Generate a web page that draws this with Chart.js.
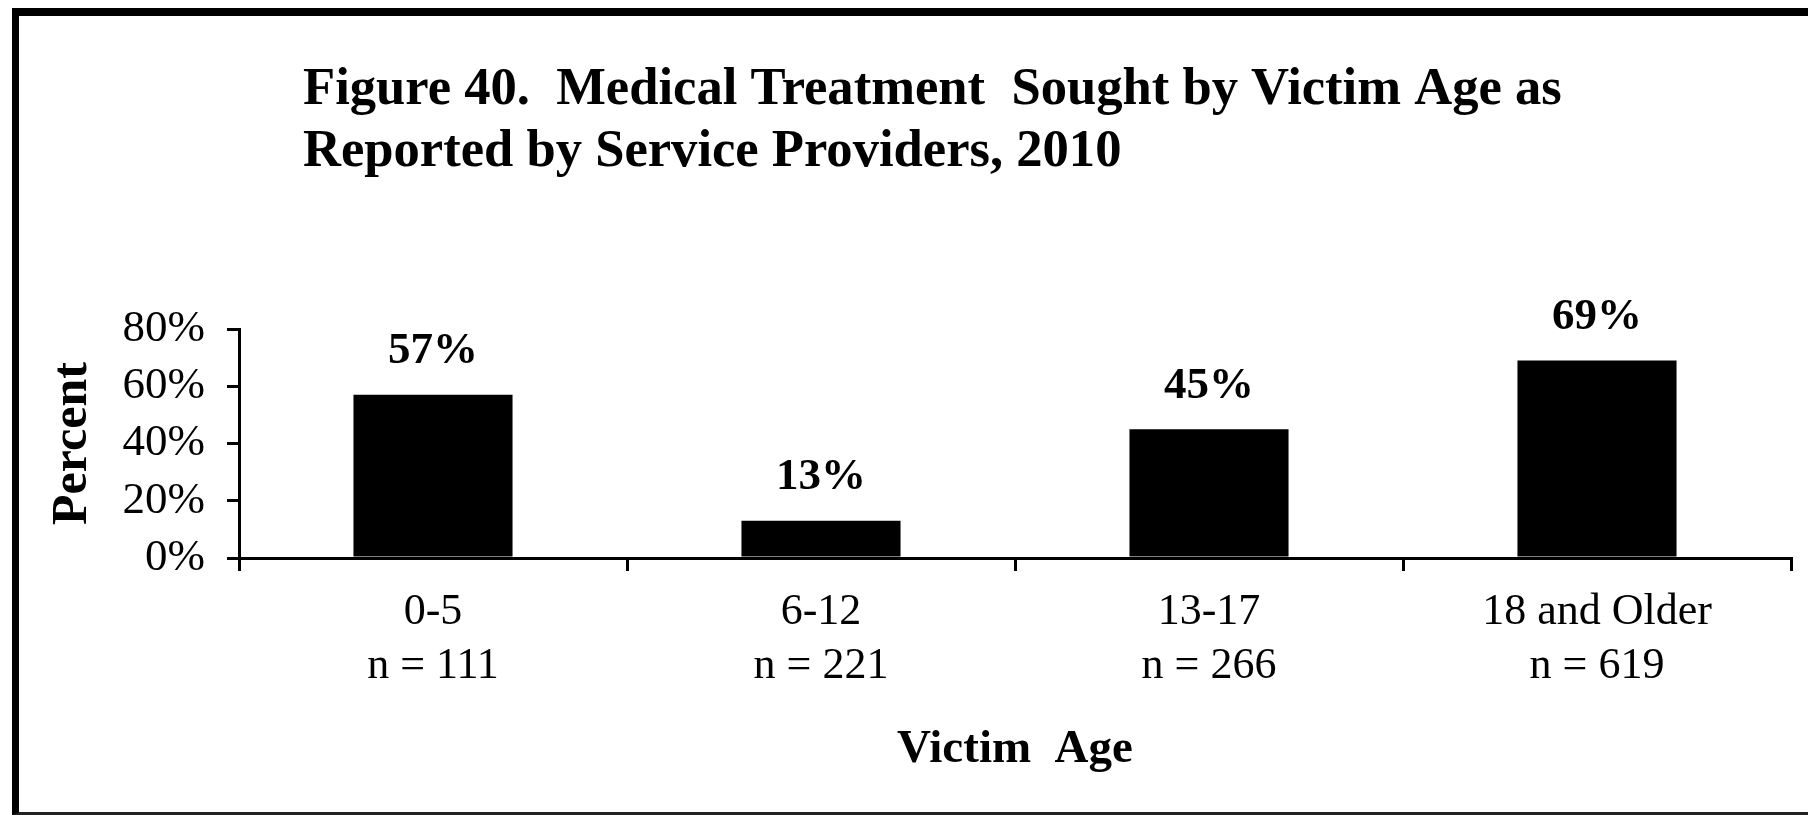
<!DOCTYPE html>
<html>
<head>
<meta charset="utf-8">
<script src="https://cdn.jsdelivr.net/npm/chart.js@4.4.1/dist/chart.umd.min.js"></script>
<style>
  html, body { margin: 0; padding: 0; background: #fff; }
  #wrap { position: relative; width: 1808px; height: 815px; overflow: hidden; }
  #chart { position: absolute; left: 0; top: 0; }
  /* рамка вокруг рисунка, справа обрезана */
  #frame {
    position: absolute; left: 12px; top: 8px; width: 1900px; height: 796px;
    border-top: 8px solid #000; border-left: 7px solid #000; border-bottom: 3px solid #222;
    pointer-events: none;
  }
</style>
</head>
<body>
<div id="wrap">
  <canvas id="chart" width="1808" height="815"></canvas>
  <div id="frame"></div>
</div>
<script>
// Данные
const categories = [
    ['0-5', 'n = 111'],
    ['6-12', 'n = 221'],
    ['13-17', 'n = 266'],
    ['18 and Older', 'n = 619']
];
const percentValues = [57, 13, 45, 69];
const yTicks = [0, 20, 40, 60, 80];
const titleLines = [
    'Figure 40.  Medical Treatment  Sought by Victim Age as',
    'Reported by Service Providers, 2010'
];

const serif = '"Liberation Serif", "Times New Roman", serif';

// Заголовок слева (встроенный title не умеет такой отступ)
const figureTitle = {
    id: 'figureTitle',
    afterDraw(chart) {
        const ctx = chart.ctx;
        ctx.save();
        ctx.font = 'bold 52.6px ' + serif;
        ctx.fillStyle = '#000';
        ctx.textAlign = 'left';
        ctx.textBaseline = 'alphabetic';
        ctx.fillText(titleLines[0], 303, 104);
        ctx.fillText(titleLines[1], 303, 166);
        ctx.restore();
    }
};

// Подписи значений над столбцами
const barLabels = {
    id: 'barLabels',
    afterDatasetsDraw(chart) {
        const ctx = chart.ctx;
        const meta = chart.getDatasetMeta(0);
        ctx.save();
        ctx.font = 'bold 45px ' + serif;
        ctx.fillStyle = '#000';
        ctx.textAlign = 'center';
        ctx.textBaseline = 'middle';
        meta.data.forEach((bar, i) => {
            ctx.fillText(percentValues[i] + '%', bar.x, bar.y - 43);
        });
        ctx.restore();
    }
};

const ctx = document.getElementById('chart').getContext('2d');

const chart = new Chart(ctx, {
    type: 'bar',
    data: {
        labels: categories,
        datasets: [{
            data: percentValues,
            backgroundColor: '#000',
            borderWidth: 0,
            barPercentage: 0.41,
            categoryPercentage: 1
        }]
    },
    options: {
        responsive: false,
        animation: false,
        devicePixelRatio: 1,
        layout: { padding: { top: 329, right: 17, bottom: 0, left: 0 } },
        plugins: {
            legend: { display: false },
            tooltip: { enabled: false }
        },
        scales: {
            x: {
                afterFit: (s) => { s.height = 257; },
                grid: { display: true, drawOnChartArea: false, tickLength: 13, color: '#000', lineWidth: 3, offset: true },
                border: { display: true, color: '#000', width: 3 },
                ticks: { color: '#000', padding: 14, maxRotation: 0, autoSkip: false,
                    font: { family: serif, size: 44, lineHeight: 1.227 } },
                title: {
                    display: true, text: 'Victim  Age', color: '#000',
                    font: { family: serif, size: 47, weight: 'bold', lineHeight: 1.2 },
                    padding: { top: 0, bottom: 37 }
                }
            },
            y: {
                min: 0,
                max: 80,
                afterFit: (s) => { s.width = 239; },
                afterBuildTicks: (s) => { s.ticks = yTicks.map(v => ({ value: v })); },
                grid: { display: true, drawOnChartArea: false, tickLength: 12, color: '#000', lineWidth: 3 },
                border: { display: true, color: '#000', width: 3 },
                ticks: { color: '#000', padding: 22, callback: (v) => v + '%',
                    font: { family: serif, size: 45 } },
                title: {
                    display: true, text: 'Percent', color: '#000',
                    font: { family: serif, size: 50, weight: 'bold', lineHeight: 1.2 },
                    padding: { top: 43, bottom: 0 }
                }
            }
        }
    },
    plugins: [figureTitle, barLabels]
});
</script>
</body>
</html>
